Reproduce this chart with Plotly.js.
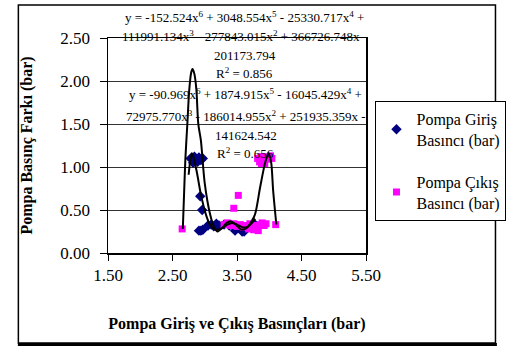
<!DOCTYPE html>
<html><head><meta charset="utf-8">
<script src="https://cdn.plot.ly/plotly-3.0.1.min.js"></script>
<style>html,body{margin:0;padding:0;background:#fff;}#chart{width:518px;height:346px;}</style>
</head><body><div id="chart"></div>
<script>
// ---- data ----
const seriesNames = ['Pompa Giriş<br>Basıncı (bar)', 'Pompa Çıkış<br>Basıncı (bar)'];

const xGiris = [2.78, 2.81, 2.84, 2.87, 2.91, 2.94, 2.97, 2.82, 2.89, 2.93, 2.96, 2.91, 2.94, 2.97, 3.05, 3.10, 3.14, 3.18, 3.22, 3.30, 3.38, 3.47, 3.52, 3.58, 3.61, 3.66, 3.72, 3.78];
const yGiris = [1.10, 1.08, 1.12, 1.09, 1.11, 1.08, 1.10, 1.05, 1.06, 0.66, 0.50, 0.26, 0.26, 0.27, 0.32, 0.33, 0.31, 0.34, 0.32, 0.33, 0.32, 0.26, 0.30, 0.25, 0.25, 0.31, 0.30, 0.33];

const xCikis = [2.65, 3.45, 3.52, 3.82, 3.85, 3.87, 3.90, 3.93, 3.96, 3.99, 4.02, 4.04, 3.88, 4.10, 3.30, 3.35, 3.40, 3.45, 3.50, 3.55, 3.60, 3.64, 3.68, 3.72, 3.76, 3.80, 3.83, 3.86, 3.89, 3.92, 3.95, 3.78, 3.70];
const yCikis = [0.28, 0.52, 0.67, 1.10, 1.06, 1.12, 1.08, 1.04, 1.12, 1.09, 1.13, 1.10, 1.04, 0.33, 0.33, 0.35, 0.32, 0.34, 0.31, 0.33, 0.30, 0.32, 0.28, 0.30, 0.27, 0.32, 0.26, 0.33, 0.35, 0.32, 0.34, 0.29, 0.34];

// trendline paths
const xTrendGiris = [2.75, 2.78, 2.80, 2.83, 2.88, 2.93, 2.98, 3.03, 3.08, 3.14, 3.20, 3.27, 3.35, 3.42, 3.50, 3.58, 3.65, 3.72, 3.78];
const yTrendGiris = [0.91, 1.10, 1.16, 1.10, 0.93, 0.72, 0.55, 0.42, 0.33, 0.28, 0.27, 0.29, 0.33, 0.35, 0.33, 0.30, 0.30, 0.34, 0.40];

const xTrendCikis = [2.66, 2.68, 2.70, 2.73, 2.76, 2.79, 2.81, 2.84, 2.87, 2.90, 2.94, 3.00, 3.08, 3.15, 3.20, 3.27, 3.34, 3.40, 3.48, 3.57, 3.65, 3.72, 3.78, 3.86, 3.94, 3.99, 4.03, 4.06, 4.11];
const yTrendCikis = [0.28, 0.70, 1.10, 1.50, 1.90, 2.10, 2.14, 2.08, 1.90, 1.50, 1.31, 0.81, 0.46, 0.29, 0.25, 0.29, 0.35, 0.37, 0.33, 0.27, 0.29, 0.36, 0.45, 0.77, 1.06, 1.16, 1.05, 0.73, 0.33];

const xTicks = [1.5, 2.5, 3.5, 4.5, 5.5];
const xTickText = ['1.50', '2.50', '3.50', '4.50', '5.50'];
const yTicks = [0, 0.5, 1, 1.5, 2, 2.5];
const yTickText = ['0.00', '0.50', '1.00', '1.50', '2.00', '2.50'];

const eq1 = ['y = -152.524x<sup>6</sup> + 3048.554x<sup>5</sup> - 25330.717x<sup>4</sup> +',
             '111991.134x<sup>3</sup> - 277843.015x<sup>2</sup> + 366726.748x -',
             '201173.794',
             'R<sup>2</sup> = 0.856'];
const eq2 = ['y = -90.969x<sup>6</sup> + 1874.915x<sup>5</sup> - 16045.429x<sup>4</sup> +',
             '72975.770x<sup>3</sup> - 186014.955x<sup>2</sup> + 251935.359x -',
             '141624.542',
             'R<sup>2</sup> = 0.656'];

const xTitle = 'Pompa Giriş ve Çıkış Basınçları (bar)';
const yTitle = 'Pompa Basınç Farkı (bar)';

// ---- layout helpers (pixel -> paper) ----
const W = 518, H = 346, L = 108, T = 38, PW = 272, PH = 215;
const px = p => (p - L) / PW;
const py = p => (T + PH - p) / PH;
const serif = 'Liberation Serif, Times New Roman, serif';

const traces = [
  {x: xGiris, y: yGiris, type: 'scatter', mode: 'markers', name: seriesNames[0],
   marker: {symbol: 'diamond', color: '#000080', size: 8}, legendgroup: 'a'},
  {x: xCikis, y: yCikis, type: 'scatter', mode: 'markers', name: seriesNames[1],
   marker: {symbol: 'square', color: '#FF00FF', size: 7}, legendgroup: 'b'},
  {x: xTrendGiris, y: yTrendGiris, type: 'scatter', mode: 'lines', showlegend: false,
   line: {color: '#000', width: 2, shape: 'spline', smoothing: 0.8}, hoverinfo: 'skip'},
  {x: xTrendCikis, y: yTrendCikis, type: 'scatter', mode: 'lines', showlegend: false,
   line: {color: '#000', width: 2, shape: 'spline', smoothing: 0.8}, hoverinfo: 'skip'}
];

const eqY1 = [17, 36, 55, 73];
const eqY2 = [94, 116, 135, 153];
const annotations = [];
eq1.forEach((t, i) => annotations.push({text: t, xref: 'paper', yref: 'paper', x: px(252), y: py(eqY1[i]),
  xanchor: 'center', yanchor: 'middle', showarrow: false, font: {family: serif, size: 13, color: '#000'}}));
eq2.forEach((t, i) => annotations.push({text: t, xref: 'paper', yref: 'paper', x: px(253), y: py(eqY2[i]),
  xanchor: 'center', yanchor: 'middle', showarrow: false, font: {family: serif, size: 13, color: '#000'}}));

const layout = {
  width: W, height: H,
  margin: {l: L, r: W - L - PW, t: T, b: H - T - PH, pad: 0},
  paper_bgcolor: '#fff', plot_bgcolor: '#fff',
  font: {family: serif, color: '#000'},
  showlegend: true,
  legend: {x: px(390), xanchor: 'left', y: py(101), yanchor: 'top',
    bordercolor: '#000', borderwidth: 1, bgcolor: '#fff',
    font: {family: serif, size: 16, color: '#000'},
    traceorder: 'grouped', tracegroupgap: 18, itemwidth: 30},
  xaxis: {range: [1.5, 5.5], tickvals: xTicks, ticktext: xTickText,
    showgrid: false, zeroline: false, showline: true, linecolor: '#000', linewidth: 1.5, mirror: true,
    ticks: 'outside', ticklen: 6, tickcolor: '#000', tickwidth: 1,
    tickfont: {family: serif, size: 17, color: '#000'},
    title: {text: '<b>' + xTitle + '</b>', font: {family: serif, size: 16, color: '#000'}, standoff: 34},
    fixedrange: true},
  yaxis: {range: [0, 2.5], tickvals: yTicks, ticktext: yTickText,
    showgrid: true, gridcolor: '#333', gridwidth: 1, zeroline: false,
    showline: true, linecolor: '#000', linewidth: 1.5, mirror: true,
    ticks: 'outside', ticklen: 7, tickcolor: '#000', tickwidth: 1, ticklabelstandoff: 6,
    tickfont: {family: serif, size: 17, color: '#000'},
    title: {text: '<b>' + yTitle + '</b>', font: {family: serif, size: 16, color: '#000'}, standoff: 23},
    fixedrange: true},
  annotations: annotations,
  shapes: [
    {type: 'rect', xref: 'paper', yref: 'paper', x0: px(13.5), x1: px(516.5), y0: py(5), y1: py(343),
     line: {color: '#000', width: 1.5}},
    {type: 'line', xref: 'paper', yref: 'paper', x0: px(13), x1: px(518), y0: py(344.5), y1: py(344.5),
     line: {color: '#000', width: 3}}
  ]
};

Plotly.newPlot('chart', traces, layout, {displayModeBar: false, staticPlot: true});
</script></body></html>
